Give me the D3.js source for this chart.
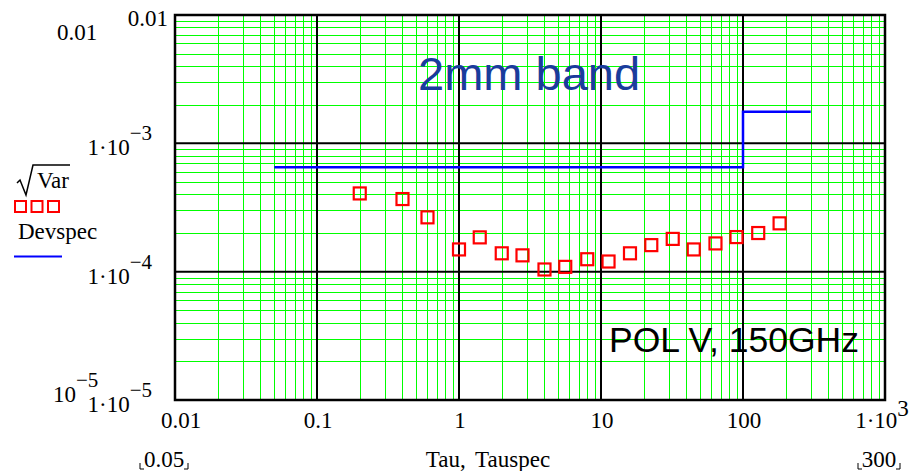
<!DOCTYPE html>
<html>
<head>
<meta charset="utf-8">
<script src="https://cdn.jsdelivr.net/npm/d3@7"></script>
<style>
	body { margin: 0; background: #fff; }
	svg { display: block; }
	.tick-label { font-family: "Liberation Serif", "Times New Roman", serif; font-size: 23px; fill: #000; }
</style>
</head>
<body>
<svg id="chart" width="910" height="471"></svg>
<script>
// Measured points (Tau, sqrt(Var))
const tau = [0.2, 0.4, 0.6, 1.0, 1.4, 2.0, 2.8, 4.0, 5.6, 8.0, 11.3, 16, 22.6, 32, 45, 64, 90, 128, 181];
const sqrtVar = [4.07e-4, 3.68e-4, 2.65e-4, 1.49e-4, 1.85e-4, 1.39e-4, 1.34e-4, 1.04e-4, 1.09e-4, 1.25e-4,
	1.20e-4, 1.39e-4, 1.61e-4, 1.80e-4, 1.49e-4, 1.66e-4, 1.86e-4, 2.0e-4, 2.38e-4];

// Spec line (Tauspec, Devspec), drawn as a step
const tauspec = [0.05, 100, 300];
const devspec = [6.5e-4, 1.76e-3, 1.76e-3];

// Axis ticks
const xTickValues = [0.01, 0.1, 1, 10, 100, 1000];
const xTickText = ["0.01", "0.1", "1", "10", "100", "1·10"];
const xTickExp = ["", "", "", "", "", "3"];
const yTickValues = [1e-2, 1e-3, 1e-4, 1e-5];
const yTickText = ["0.01", "1·10", "1·10", "1·10"];
const yTickExp = ["", "−3", "−4", "−5"];

const svg = d3.select("#chart");
const plotLeft = 175, plotRight = 885, plotTop = 15, plotBottom = 400;

const x = d3.scaleLog().domain([0.01, 1000]).range([plotLeft, plotRight]);
const y = d3.scaleLog().domain([1e-5, 0.01]).range([plotBottom, plotTop]);

const isDecade = v => Math.abs(Math.log10(v) - Math.round(Math.log10(v))) < 1e-9;

// Minor grid (green) then major grid (black)
const grid = svg.append("g");
const xAll = x.ticks();
const yAll = y.ticks();

grid.append("g").selectAll("line")
	.data(xAll.filter(v => !isDecade(v)))
	.join("line")
	.attr("x1", v => Math.round(x(v)) + .5).attr("x2", v => Math.round(x(v)) + .5)
	.attr("y1", plotTop).attr("y2", plotBottom)
	.attr("stroke", "#00ff00").attr("stroke-width", 1);

grid.append("g").selectAll("line")
	.data(yAll.filter(v => !isDecade(v)))
	.join("line")
	.attr("y1", v => Math.round(y(v)) + .5).attr("y2", v => Math.round(y(v)) + .5)
	.attr("x1", plotLeft).attr("x2", plotRight)
	.attr("stroke", "#00ff00").attr("stroke-width", 1);

grid.append("g").selectAll("line")
	.data(xTickValues.slice(1, -1))
	.join("line")
	.attr("x1", v => x(v)).attr("x2", v => x(v))
	.attr("y1", plotTop).attr("y2", plotBottom)
	.attr("stroke", "#000").attr("stroke-width", 2);

grid.append("g").selectAll("line")
	.data(yTickValues.slice(1, -1))
	.join("line")
	.attr("y1", v => y(v)).attr("y2", v => y(v))
	.attr("x1", plotLeft).attr("x2", plotRight)
	.attr("stroke", "#000").attr("stroke-width", 2);

// Plot frame
svg.append("rect")
	.attr("x", plotLeft).attr("y", plotTop)
	.attr("width", plotRight - plotLeft).attr("height", plotBottom - plotTop)
	.attr("fill", "none").attr("stroke", "#000").attr("stroke-width", 2.5);

// Annotations
svg.append("text")
	.attr("x", 418).attr("y", 90)
	.attr("font-family", "Liberation Sans, Arial, sans-serif")
	.attr("font-size", 47)
	.attr("fill", "#1a3c9c")
	.text("2mm band");

svg.append("text")
	.attr("x", 609).attr("y", 352)
	.attr("font-family", "Liberation Sans, Arial, sans-serif")
	.attr("font-size", 35.5)
	.attr("fill", "#000")
	.text("POL V, 150GHz");

// Devspec step line
const line = d3.line()
	.x(d => x(d[0]))
	.y(d => y(d[1]))
	.curve(d3.curveStepAfter);

svg.append("path")
	.datum(d3.zip(tauspec, devspec))
	.attr("d", line)
	.attr("fill", "none")
	.attr("stroke", "#0000ff")
	.attr("stroke-width", 2.5);

// sqrt(Var) markers
const sq = 12;
svg.append("g").selectAll("rect")
	.data(d3.zip(tau, sqrtVar))
	.join("rect")
	.attr("x", d => x(d[0]) - sq / 2)
	.attr("y", d => y(d[1]) - sq / 2)
	.attr("width", sq).attr("height", sq)
	.attr("fill", "none")
	.attr("stroke", "#ff0000")
	.attr("stroke-width", 2.2);

// Y tick labels
const yLabels = svg.append("g").attr("class", "tick-label");
yTickValues.forEach((v, i) => {
	const t = yLabels.append("text")
		.attr("text-anchor", "end")
		.attr("x", yTickExp[i] ? 152 : 168)
		.attr("y", y(v) + (i === 0 ? 11 : 12));
	t.append("tspan").text(yTickText[i]);
	if (yTickExp[i]) t.append("tspan").attr("dy", -15).attr("font-size", 21).text(yTickExp[i]);
});

// Y axis limit labels (Mathcad style)
yLabels.append("text").attr("x", 57).attr("y", 40).text("0.01");
const lo = yLabels.append("text").attr("x", 53).attr("y", 402);
lo.append("tspan").text("10");
lo.append("tspan").attr("dy", -15).attr("font-size", 21).text("−5");

// X tick labels
const xLabels = svg.append("g").attr("class", "tick-label");
xTickValues.forEach((v, i) => {
	const t = xLabels.append("text")
		.attr("text-anchor", "middle")
		.attr("x", x(v) + (xTickExp[i] ? -3 : (i === 0 ? 6 : 1)))
		.attr("y", 428);
	t.append("tspan").text(xTickText[i]);
	if (xTickExp[i]) t.append("tspan").attr("dy", -12).text(xTickExp[i]);
});

// X axis limit row
xLabels.append("text").attr("x", 164).attr("y", 467).attr("text-anchor", "middle").text("0.05");
xLabels.append("text").attr("x", 879).attr("y", 467).attr("text-anchor", "middle").text("300");
xLabels.append("text").attr("x", 488).attr("y", 467).attr("text-anchor", "middle")
	.attr("word-spacing", 4).text("Tau, Tauspec");

// Corner marks around the x limits
function cornerMarks(cx, halfW) {
	svg.append("path")
		.attr("d", `M${cx - halfW},463 v6 h4 M${cx + halfW},463 v6 h-4`)
		.attr("fill", "none").attr("stroke", "#000").attr("stroke-width", 1);
}
cornerMarks(164, 24);
cornerMarks(879, 21);

// Legend
const legend = svg.append("g").attr("class", "tick-label");
legend.append("text").attr("x", 37).attr("y", 188).text("Var");
legend.append("path")
	.attr("d", "M17,183 L20,180 L26,195 L33,165 L70,165")
	.attr("fill", "none").attr("stroke", "#000").attr("stroke-width", 1.5);
legend.selectAll("rect")
	.data([0, 1, 2])
	.join("rect")
	.attr("x", i => 15 + i * 16.5).attr("y", 201)
	.attr("width", 11).attr("height", 11)
	.attr("fill", "none").attr("stroke", "#ff0000").attr("stroke-width", 2);
legend.append("text").attr("x", 18).attr("y", 239).text("Devspec");
legend.append("line")
	.attr("x1", 14).attr("x2", 62).attr("y1", 256.5).attr("y2", 256.5)
	.attr("stroke", "#0000ff").attr("stroke-width", 2);
</script>
</body>
</html>
